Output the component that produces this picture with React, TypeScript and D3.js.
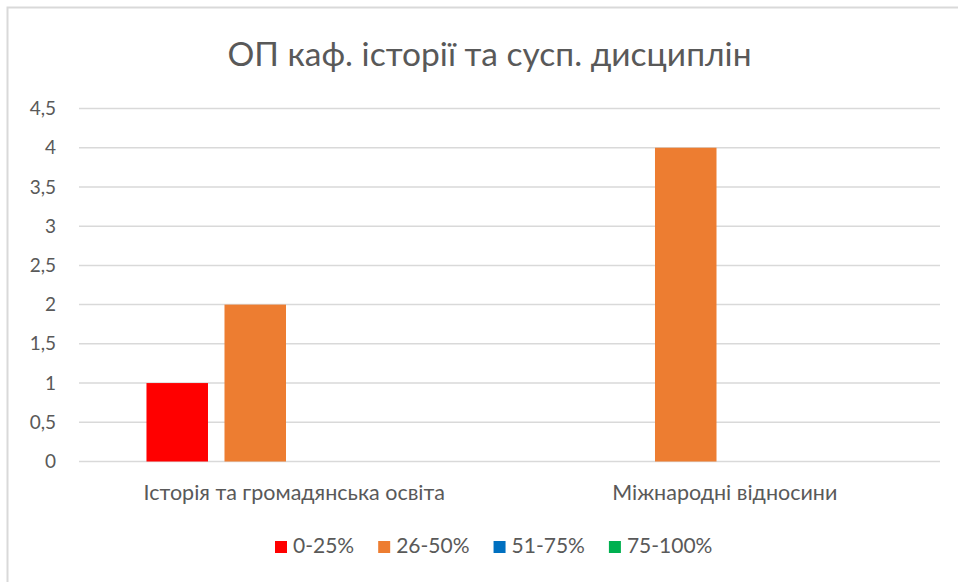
import React, { useEffect, useRef } from "react";
import * as d3 from "d3";

const title = "ОП каф. історії та сусп. дисциплін";
const categories = ["Історія та громадянська освіта", "Міжнародні відносини"];
const seriesNames = ["0-25%", "26-50%", "51-75%", "75-100%"];
const seriesColors = ["#ff0000", "#ed7d31", "#0070c0", "#00b050"];
const values0to25 = [1, 0];
const values26to50 = [2, 4];
const values51to75 = [0, 0];
const values75to100 = [0, 0];
const yTicks = [0, 0.5, 1, 1.5, 2, 2.5, 3, 3.5, 4, 4.5];

const W = 958;
const H = 582;
const FONT = "Lato, 'Open Sans', sans-serif";

export default function App() {
  const ref = useRef<SVGSVGElement | null>(null);

  useEffect(() => {
    const svg = d3.select(ref.current);
    svg.selectAll("*").remove();

    const seriesValues = [values0to25, values26to50, values51to75, values75to100];

    // chart border
    svg.append("rect")
      .attr("x", 7.5).attr("y", 7.5)
      .attr("width", W + 20).attr("height", H + 20)
      .attr("fill", "#ffffff").attr("stroke", "#d9d9d9").attr("stroke-width", 2);

    const left = 79, right = 940, top = 108.5, bottom = 461.5;

    const y = d3.scaleLinear().domain([0, 4.5]).range([bottom, top]);
    const x0 = d3.scaleBand<string>().domain(categories).range([left, right]).padding(0);
    const x1 = d3.scaleBand<string>().domain(seriesNames)
      .range([0, x0.bandwidth()]).paddingInner(0.2115).paddingOuter(0.865);

    // gridlines
    svg.append("g").selectAll("line").data(yTicks).join("line")
      .attr("x1", left).attr("x2", right)
      .attr("y1", (d) => y(d)).attr("y2", (d) => y(d))
      .attr("stroke", "#d9d9d9").attr("stroke-width", 1.5);

    // y tick labels
    const fmt = (d: number) => String(d).replace(".", ",");
    svg.append("g").selectAll("text").data(yTicks).join("text")
      .attr("x", 56).attr("y", (d) => y(d))
      .attr("dy", "0.35em")
      .attr("text-anchor", "end")
      .attr("font-family", FONT).attr("font-size", 19)
      .attr("fill", "#595959")
      .text(fmt);

    // bars
    seriesNames.forEach((s, si) => {
      svg.append("g").selectAll("rect")
        .data(categories.map((c, ci) => ({ c, v: seriesValues[si][ci] })).filter((d) => d.v > 0))
        .join("rect")
        .attr("x", (d) => (x0(d.c) as number) + (x1(s) as number))
        .attr("width", x1.bandwidth())
        .attr("y", (d) => y(d.v))
        .attr("height", (d) => y(0) - y(d.v))
        .attr("fill", seriesColors[si]);
    });

    // category labels
    svg.append("g").selectAll("text").data(categories).join("text")
      .attr("x", (d) => (x0(d) as number) + x0.bandwidth() / 2)
      .attr("y", 500)
      .attr("text-anchor", "middle")
      .attr("font-family", FONT).attr("font-size", 21.5)
      .attr("fill", "#595959")
      .text((d) => d);

    // title
    svg.append("text")
      .attr("x", 489.5).attr("y", 66)
      .attr("text-anchor", "middle")
      .attr("font-family", FONT).attr("font-size", 33.5)
      .attr("fill", "#595959")
      .text(title);

    // legend
    const legend = svg.append("g");
    let cx = 275;
    seriesNames.forEach((s, i) => {
      legend.append("rect")
        .attr("x", cx).attr("y", 541)
        .attr("width", 12).attr("height", 12)
        .attr("fill", seriesColors[i]);
      const t = legend.append("text")
        .attr("x", cx + 18).attr("y", 553)
        .attr("font-family", FONT).attr("font-size", 21)
        .attr("fill", "#595959")
        .text(s);
      const w = (t.node() as SVGTextElement).getComputedTextLength();
      cx = cx + 18 + w + 24;
    });
  }, []);

  return (
    <svg ref={ref} width={W} height={H} style={{ position: "absolute", left: 0, top: 0 }} />
  );
}
